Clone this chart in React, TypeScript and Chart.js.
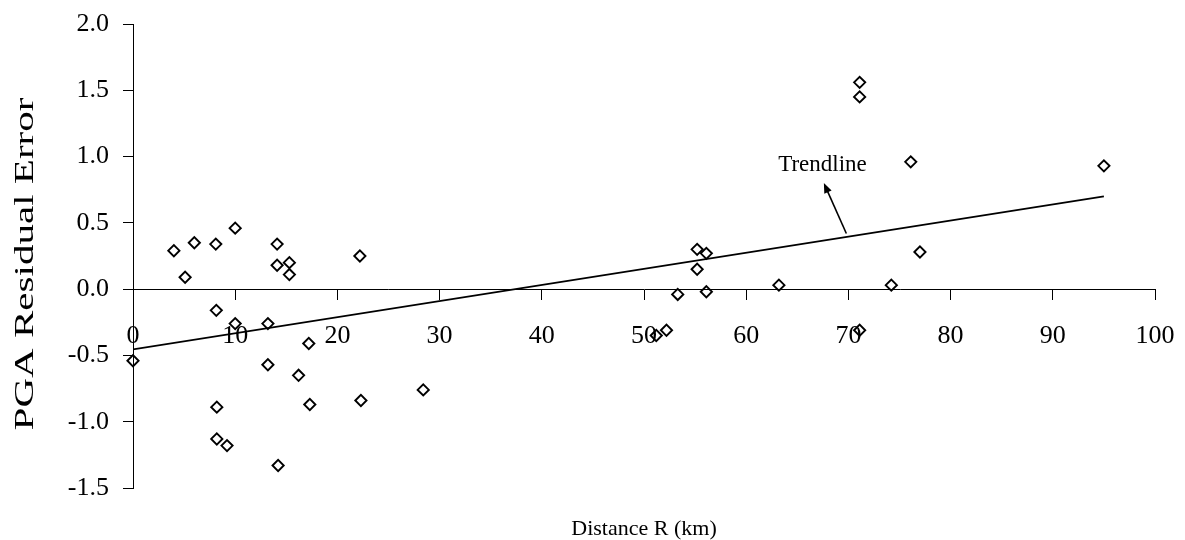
import React, { useEffect, useRef } from "react";
import { Chart, registerables } from "chart.js";

Chart.register(...registerables);

// ---- Data ----
const distanceKm = [
  0, 4.0, 5.1, 6.0, 8.1, 8.15, 8.2, 8.2, 9.2, 10.0, 10.0, 13.2, 13.2, 14.1, 14.1,
  14.2, 15.3, 15.3, 16.2, 17.2, 17.3, 22.2, 22.3, 28.4, 51.2, 52.2, 53.3, 55.2,
  55.2, 56.1, 56.1, 63.2, 71.1, 71.1, 71.1, 74.2, 76.1, 77.0, 95.0,
];
const residualError = [
  -0.54, 0.29, 0.09, 0.35, 0.34, -0.16, -0.89, -1.13, -1.18, 0.46, -0.26, -0.26,
  -0.57, 0.34, 0.18, -1.33, 0.2, 0.11, -0.65, -0.41, -0.87, 0.25, -0.84, -0.76,
  -0.35, -0.31, -0.04, 0.3, 0.15, 0.27, -0.02, 0.03, 1.56, 1.45, -0.31, 0.03,
  0.96, 0.28, 0.93,
];
const trendX = [0, 95];
const trendY = [-0.455, 0.7];

const xMin = 0;
const xMax = 100;
const xStep = 10;
const yMin = -1.5;
const yMax = 2.0;
const yStep = 0.5;

const xTitle = "Distance R (km)";
const yTitle = "PGA Residual Error";
const trendLabel = "Trendline";
const trendLabelAt = [71.8, 0.894];
const arrowFrom = [69.8, 0.42];
const arrowTo = [67.6, 0.8];

const FONT = "'Liberation Serif', 'Times New Roman', serif";

const overlayPlugin = {
  id: "overlay",
  afterDraw(chart: any) {
    const { ctx, chartArea } = chart;
    const xs = chart.scales.x;
    const ys = chart.scales.y;
    ctx.save();
    ctx.fillStyle = "#000";
    ctx.strokeStyle = "#000";
    // x axis title
    ctx.font = `22px ${FONT}`;
    ctx.textAlign = "center";
    ctx.textBaseline = "alphabetic";
    ctx.fillText(xTitle, (chartArea.left + chartArea.right) / 2, chartArea.bottom + 47);
    // y axis title (rotated, wide lettering as in the reference)
    ctx.save();
    ctx.translate(33, (chartArea.top + chartArea.bottom) / 2 + 8);
    ctx.rotate(-Math.PI / 2);
    ctx.scale(1.52, 1);
    ctx.font = `27px ${FONT}`;
    ctx.textAlign = "center";
    ctx.textBaseline = "alphabetic";
    ctx.fillText(yTitle, 0, 0);
    ctx.restore();
    // trendline label
    ctx.font = `23px ${FONT}`;
    ctx.textAlign = "right";
    ctx.textBaseline = "alphabetic";
    ctx.fillText(
      trendLabel,
      xs.getPixelForValue(trendLabelAt[0]),
      ys.getPixelForValue(trendLabelAt[1])
    );
    // arrow
    const x1 = xs.getPixelForValue(arrowFrom[0]);
    const y1 = ys.getPixelForValue(arrowFrom[1]);
    const x2 = xs.getPixelForValue(arrowTo[0]);
    const y2 = ys.getPixelForValue(arrowTo[1]);
    const ang = Math.atan2(y2 - y1, x2 - x1);
    const L = 10;
    const W = 4;
    ctx.lineWidth = 1.6;
    ctx.beginPath();
    ctx.moveTo(x1, y1);
    ctx.lineTo(x2 - (L - 2) * Math.cos(ang), y2 - (L - 2) * Math.sin(ang));
    ctx.stroke();
    ctx.beginPath();
    ctx.moveTo(x2, y2);
    ctx.lineTo(
      x2 - L * Math.cos(ang) + W * Math.sin(ang),
      y2 - L * Math.sin(ang) - W * Math.cos(ang)
    );
    ctx.lineTo(
      x2 - L * Math.cos(ang) - W * Math.sin(ang),
      y2 - L * Math.sin(ang) + W * Math.cos(ang)
    );
    ctx.closePath();
    ctx.fill();
    ctx.restore();
  },
};

export default function App() {
  const canvasRef = useRef<HTMLCanvasElement | null>(null);

  useEffect(() => {
    document.body.style.margin = "0";
    const canvas = canvasRef.current;
    if (!canvas) return;
    const points = distanceKm.map((d, i) => ({ x: d, y: residualError[i] }));
    const trend = trendX.map((d, i) => ({ x: d, y: trendY[i] }));

    const chart = new Chart(canvas, {
      type: "scatter",
      data: {
        datasets: [
          {
            type: "line",
            label: "Trendline",
            data: trend,
            borderColor: "#000",
            borderWidth: 1.7,
            pointRadius: 0,
            fill: false,
            order: 2,
          } as any,
          {
            label: "Residual",
            data: points,
            pointStyle: "rectRot",
            pointRadius: 5.6,
            pointBorderWidth: 1.9,
            borderColor: "#000",
            backgroundColor: "rgba(0,0,0,0)",
            pointBackgroundColor: "rgba(0,0,0,0)",
            clip: false,
            order: 1,
          } as any,
        ],
      },
      options: {
        animation: false,
        responsive: true,
        maintainAspectRatio: false,
        layout: {
          autoPadding: false,
          padding: { left: 0, right: 30, top: 24, bottom: 52 },
        } as any,
        plugins: {
          legend: { display: false },
          tooltip: { enabled: false },
        },
        scales: {
          x: {
            type: "linear",
            position: { y: 0 } as any,
            min: xMin,
            max: xMax,
            afterFit(scale: any) {
              scale.paddingLeft = 0;
              scale.paddingRight = 0;
            },
            ticks: {
              stepSize: xStep,
              color: "#000",
              font: { family: FONT, size: 26 },
              padding: 21,
              maxRotation: 0,
            },
            grid: {
              drawOnChartArea: false,
              drawTicks: true,
              tickLength: 10,
              color: "#000",
            },
            border: { display: true, color: "#000", width: 1 },
          },
          y: {
            type: "linear",
            position: "left",
            min: yMin,
            max: yMax,
            afterFit(scale: any) {
              scale.width = 133;
              scale.paddingTop = 0;
              scale.paddingBottom = 0;
            },
            ticks: {
              stepSize: yStep,
              color: "#000",
              font: { family: FONT, size: 26 },
              padding: 14,
              callback: (v: any) => Number(v).toFixed(1),
            },
            grid: {
              drawOnChartArea: false,
              drawTicks: true,
              tickLength: 10,
              color: "#000",
            },
            border: { display: true, color: "#000", width: 1 },
            title: { display: false },
          },
        },
      },
      plugins: [overlayPlugin],
    });
    return () => chart.destroy();
  }, []);

  return (
    <div style={{ position: "absolute", left: 0, top: 0, width: 1185, height: 540 }}>
      <canvas ref={canvasRef} />
    </div>
  );
}
